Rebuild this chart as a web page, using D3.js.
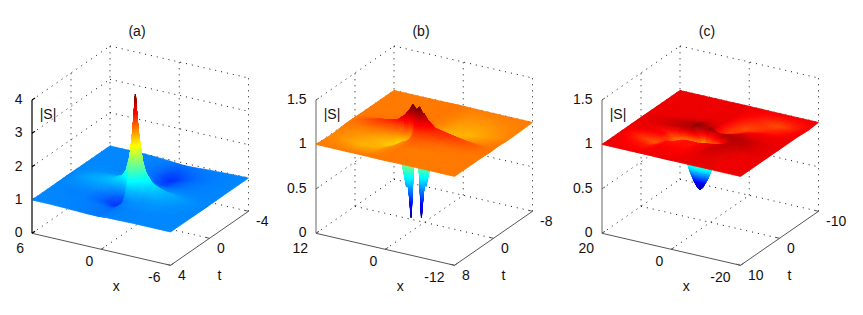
<!DOCTYPE html>
<html>
<head>
<meta charset="utf-8">
<script src="https://cdn.jsdelivr.net/npm/d3@7"></script>
<style>
  html, body { margin: 0; padding: 0; background: #fff; }
  svg { display: block; }
  text { font-family: "Liberation Sans", Arial, sans-serif; font-size: 14px; fill: #111; }
</style>
</head>
<body>
<svg id="chart" width="863" height="315"></svg>
<script>
// values, rows go along t, columns along x
const xA = [6, 4.4, 3.1, 2.1, 1.3, 0.8, 0.45, 0.2, 0, -0.2, -0.45, -0.8, -1.4, -2.5, -4, -6];
const tA = [-4, -2.8, -1.5, -0.8, -0.3, 0.1, 0.3, 0.5, 0.7, 0.9, 1.3, 1.75, 2.6, 4];
const zA = [
  [1, 1, 1, .99, .97, .96, .95, .94, .94, .93, .93, .93, .94, .96, .98, 1],
  [1, 1, 1, .98, .94, .88, .8, .74, .7, .68, .68, .72, .8, .9, .97, 1],
  [1, 1.01, 1, .98, .96, .95, .93, .9, .86, .84, .82, .82, .86, .93, .98, 1],
  [1, 1.03, 1.04, 1.04, 1.04, 1.06, 1.08, 1.1, 1.1, 1.06, 1, .96, .95, .98, .99, 1],
  [1, 1.07, 1.12, 1.15, 1.2, 1.27, 1.38, 1.5, 1.55, 1.42, 1.22, 1.08, 1, 1.03, 1.02, 1],
  [1, 1.09, 1.15, 1.21, 1.34, 1.5, 1.78, 2.1, 2.35, 1.98, 1.55, 1.3, 1.15, 1.1, 1.05, 1],
  [1, 1.1, 1.16, 1.22, 1.36, 1.6, 2, 2.6, 3, 2.5, 1.9, 1.55, 1.3, 1.17, 1.07, 1],
  [1, 1.1, 1.16, 1.22, 1.34, 1.6, 2.1, 2.9, 3.95, 2.9, 2.2, 1.72, 1.4, 1.19, 1.08, 1],
  [1, 1.08, 1.13, 1.16, 1.12, 1.2, 1.6, 2.35, 2.8, 2.5, 2, 1.6, 1.33, 1.18, 1.08, 1],
  [1, 1.05, 1.1, 1.06, .85, .72, 1, 1.7, 2.05, 1.8, 1.6, 1.4, 1.25, 1.16, 1.06, 1],
  [1, 1.02, 1.02, .9, .68, .66, .74, .95, 1.25, 1.22, 1.2, 1.14, 1.1, 1.1, 1.04, 1],
  [1, .98, .97, .88, .8, .74, .78, .85, .95, 1, 1.02, 1.04, 1.04, 1.05, 1.02, 1],
  [1, .99, .98, .96, .94, .92, .91, .91, .93, .95, .96, .98, .99, 1, 1, 1],
  [1, 1, .99, .98, .97, .97, .97, .97, .98, .98, .99, .99, .99, 1, 1, 1]
];

const xB = [12, 7, 4, 2.6, 2, 1.43, 1, .76, .52, .09, -.48, -1.08, -2.48, -5.48, -12];
const tB = [-8, -3, -1, -.2, .2, .47, .645, .835, 1.01, 1.28, 1.68, 2.48, 4.5, 8];
const zB = [
  [1, 1, 1, 1, 1, 1, 1, 1, 1, 1, 1, 1, 1, 1, 1],
  [1, 1, 1, 1, 1, 1, 1, .99, .99, .99, .98, .97, .94, .93, .99],
  [1, 1.01, 1.03, 1.04, 1.04, 1.03, 1.01, 1, .99, .98, .96, .92, .9, .96, 1],
  [1, 1.04, 1.07, 1.09, 1.1, 1.09, 1.05, 1.02, .99, .96, .9, .8, .94, 1, 1],
  [1, 1.06, 1.1, 1.15, 1.19, 1.2, 1.14, 1.05, .9, .5, .42, .62, 1, 1.04, 1],
  [1, 1.07, 1.11, 1.18, 1.24, 1.28, 1.22, 1.15, .66, .07, .55, 1, 1.06, 1.05, 1],
  [1, 1.07, 1.12, 1.2, 1.26, 1.33, 1.3, 1.27, 1.1, .8, 1.26, 1.2, 1.12, 1.08, 1],
  [1, 1.08, 1.12, 1.2, 1.26, .8, 1.1, 1.27, 1.3, 1.33, 1.26, 1.2, 1.12, 1.07, 1],
  [1, 1.05, 1.06, 1, .55, .07, .66, 1.15, 1.22, 1.28, 1.24, 1.18, 1.11, 1.07, 1],
  [1, 1.04, 1, .62, .42, .5, .9, 1.05, 1.14, 1.2, 1.19, 1.15, 1.1, 1.06, 1],
  [1, 1, .94, .8, .9, .96, .99, 1.02, 1.05, 1.09, 1.1, 1.09, 1.07, 1.04, 1],
  [1, .96, .9, .92, .96, .98, .99, 1, 1.01, 1.03, 1.04, 1.04, 1.03, 1.01, 1],
  [.99, .93, .94, .97, .98, .99, .99, .99, 1, 1, 1, 1, 1, 1, 1],
  [1, 1, 1, 1, 1, 1, 1, 1, 1, 1, 1, 1, 1, 1, 1]
];

const xC = [20, 14, 10.5, 7.5, 5, 3.7, 2.5, 1.5, .77, 0, -1.5, -3, -5, -7.5, -11, -15, -20];
const tC = [-10, -7.4, -4.5, -2.5, -1, 0, .8, 1.93, 3, 4.5, 6.7, 10];
const zC = [
  [1, 1, 1, 1, 1, 1, 1, 1, 1, 1, 1, 1, 1, 1, 1, 1, 1],
  [1, 1, 1, 1, 1, 1, 1, 1, 1, 1, .995, .99, .98, .96, .94, .96, .99],
  [1, 1, 1, 1, 1, 1, 1, 1, 1, 1, .98, .96, .94, .95, .97, .98, 1],
  [1, 1, 1.005, 1.01, 1.01, 1.02, 1.01, 1.01, 1.01, 1, .97, .95, .96, .99, 1, 1, 1],
  [1, 1.01, 1.02, 1.03, 1.04, 1.05, 1.04, 1.03, 1.03, 1.02, .98, .97, 1, 1.02, 1.01, 1, 1],
  [1, 1.01, 1.02, 1.03, 1.04, 1.07, 1.05, 1.04, 1.04, 1.06, 1.03, 1.02, 1.03, 1.03, 1.02, 1.01, 1],
  [1, 1.01, 1.02, 1.03, 1.04, 1.03, 1, .95, .85, .95, .97, 1.02, 1.04, 1.04, 1.03, 1.01, 1],
  [1, 1, .98, .92, .75, .6, .5, .44, .42, .45, .56, .72, .95, 1.03, 1.03, 1.01, 1],
  [1, 1, .99, .93, .97, .98, .98, .98, .98, .98, .99, 1, 1.01, 1.03, 1.02, 1.01, 1],
  [1, .95, .93, .98, .98, .98, .98, .98, .98, .99, 1, 1, 1.02, 1.02, 1.01, 1, 1],
  [1, .98, .97, .99, .99, .99, .99, .99, .99, .99, 1, 1, 1.01, 1.01, 1, 1, 1],
  [1, 1, 1, 1, 1, 1, 1, 1, 1, 1, 1, 1, 1, 1, 1, 1, 1]
];

const titles = ["(a)", "(b)", "(c)"];
const xTicks = [[6, 0, -6], [12, 0, -12], [20, 0, -20]];
const tTicks = [[4, 0, -4], [8, 0, -8], [10, 0, -10]];
const zTicks = [[0, 1, 2, 3, 4], [0, 0.5, 1, 1.5], [0, 0.5, 1, 1.5]];
const zLabels = [["0", "1", "2", "3", "4"], ["0", "0.5", "1", "1.5"], ["0", "0.5", "1", "1.5"]];
const colorRange = [[0, 3.9], [0.07, 1.3], [0.42, 1.07]];

// layout of the boxes on the page
const leftEdge = [32, 316, 602];
const floorY = 233.3;
const boxH = 133.3;
const alongX = [138.5, 32];   // left corner -> bottom corner
const alongT = [78, -54];     // bottom corner -> right corner

// matlab jet
const jetStops = [0, 0.125, 0.375, 0.625, 0.875, 1];
const jetColors = ["#00008f", "#0000ff", "#00ffff", "#ffff00", "#ff0000", "#800000"];

const svg = d3.select("#chart");

function drawPanel(idx, xs, ts, zs) {
  const g = svg.append("g");
  const xT = xTicks[idx], tT = tTicks[idx], zT = zTicks[idx];

  const uScale = d3.scaleLinear().domain([xT[0], xT[2]]).range([0, 1]);
  const vScale = d3.scaleLinear().domain([tT[0], tT[2]]).range([0, 1]);
  const zScale = d3.scaleLinear().domain([zT[0], zT[zT.length - 1]]).range([0, boxH]);

  const jet = d3.scaleLinear()
    .domain(jetStops.map(s => colorRange[idx][0] + s * (colorRange[idx][1] - colorRange[idx][0])))
    .range(jetColors)
    .clamp(true);

  function project(x, t, z) {
    const u = uScale(x), v = vScale(t);
    return [
      leftEdge[idx] + u * alongX[0] + v * alongT[0],
      floorY + u * alongX[1] + v * alongT[1] - zScale(z)
    ];
  }

  const line = d3.line();
  const xMin = xT[2], xMax = xT[0], tMin = tT[2], tMax = tT[0];
  const zMin = zT[0], zTop = zT[zT.length - 1];

  // dotted box grid behind the surface
  const dotted = [];
  zT.forEach(z => {
    dotted.push([project(xMax, tMax, z), project(xMax, tMin, z)]);
    dotted.push([project(xMax, tMin, z), project(xMin, tMin, z)]);
  });
  dotted.push([project(xMax, tMin, zMin), project(xMax, tMin, zTop)]);
  dotted.push([project(xMin, tMin, zMin), project(xMin, tMin, zTop)]);
  dotted.push([project(xMax, 0, zMin), project(xMax, 0, zTop)]);
  dotted.push([project(0, tMin, zMin), project(0, tMin, zTop)]);
  dotted.push([project(0, tMax, zMin), project(0, tMin, zMin)]);
  dotted.push([project(xMax, 0, zMin), project(xMin, 0, zMin)]);

  g.append("g").selectAll("path")
    .data(dotted)
    .join("path")
    .attr("d", line)
    .attr("fill", "none")
    .attr("stroke", "#111")
    .attr("stroke-width", 1)
    .attr("stroke-dasharray", "1 5");

  // box edges with the axes
  const axes = [
    [project(xMax, tMax, zMin), project(xMin, tMax, zMin)],
    [project(xMin, tMax, zMin), project(xMin, tMin, zMin)]
  ];
  xT.forEach(x => {
    const p = project(x, tMax, zMin);
    axes.push([p, [p[0] + 3, p[1] - 2]]);
  });
  tT.forEach(t => {
    const p = project(xMin, t, zMin);
    axes.push([p, [p[0] - 4, p[1] - 1]]);
  });
  g.append("g").selectAll("path")
    .data(axes)
    .join("path")
    .attr("d", line)
    .attr("fill", "none")
    .attr("stroke", "#555")
    .attr("stroke-width", 1);

  const zAxis = [[project(xMax, tMax, zMin), project(xMax, tMax, zTop)]];
  zT.forEach(z => {
    const p = project(xMax, tMax, z);
    zAxis.push([p, [p[0] + 3, p[1] - 2]]);
  });
  g.append("g").selectAll("path")
    .data(zAxis)
    .join("path")
    .attr("d", line)
    .attr("fill", "none")
    .attr("stroke", idx === 0 ? "#000" : "#666")
    .attr("stroke-width", idx === 0 ? 1.2 : 1);

  // surface, back corner first, each grid cell split up like interpolated shading
  const quads = [];
  for (let j = 0; j < xs.length - 1; j++) {
    for (let i = 0; i < ts.length - 1; i++) {
      const p0 = project(xs[j], ts[i], zs[i][j]);
      const p1 = project(xs[j + 1], ts[i + 1], zs[i + 1][j + 1]);
      const p2 = project(xs[j + 1], ts[i], zs[i][j + 1]);
      const p3 = project(xs[j], ts[i + 1], zs[i + 1][j]);
      const span = Math.max(Math.hypot(p0[0] - p1[0], p0[1] - p1[1]), Math.hypot(p2[0] - p3[0], p2[1] - p3[1]));
      const n = Math.max(2, Math.min(28, Math.ceil(span / 2.5)));
      for (let a = 0; a < n; a++) {
        for (let b = 0; b < n; b++) {
          const at = (da, db) => {
            const fa = (a + da) / n, fb = (b + db) / n;
            const x = xs[j] + (xs[j + 1] - xs[j]) * fa;
            const t = ts[i] + (ts[i + 1] - ts[i]) * fb;
            const z = (1 - fa) * (1 - fb) * zs[i][j] + fa * (1 - fb) * zs[i][j + 1]
              + (1 - fa) * fb * zs[i + 1][j] + fa * fb * zs[i + 1][j + 1];
            return { x, t, z };
          };
          const c = [at(0, 0), at(1, 0), at(1, 1), at(0, 1)];
          quads.push({
            pts: c.map(d => project(d.x, d.t, d.z)),
            z: d3.mean(c, d => d.z)
          });
        }
      }
    }
  }
  g.append("g").selectAll("polygon")
    .data(quads)
    .join("polygon")
    .attr("points", d => d.pts.map(p => p.join(",")).join(" "))
    .attr("fill", d => jet(d.z))
    .attr("stroke", d => jet(d.z))
    .attr("stroke-width", 0.6);

  // texts
  g.append("text")
    .attr("x", leftEdge[idx] + 105)
    .attr("y", 36)
    .attr("text-anchor", "middle")
    .text(titles[idx]);

  zT.forEach((z, k) => {
    const p = project(xMax, tMax, z);
    g.append("text")
      .attr("x", p[0] - 9.5)
      .attr("y", p[1] + 4)
      .attr("text-anchor", "end")
      .text(zLabels[idx][k]);
  });
  xT.forEach((x, k) => {
    const p = project(x, tMax, zMin);
    g.append("text")
      .attr("x", p[0] - 8 - (k === 2 ? 2 : 0))
      .attr("y", p[1] + (k === 0 ? 20 : 17))
      .attr("text-anchor", "end")
      .text(x);
  });
  tT.forEach(t => {
    const p = project(xMin, t, zMin);
    g.append("text")
      .attr("x", p[0] + 7.5)
      .attr("y", p[1] + 15)
      .text(t);
  });

  const xMid = project(0, tMax, zMin), tMid = project(xMin, 0, zMin);
  g.append("text")
    .attr("x", xMid[0] + 15)
    .attr("y", xMid[1] + 42)
    .attr("text-anchor", "middle")
    .text("x");
  g.append("text")
    .attr("x", tMid[0] + 10)
    .attr("y", tMid[1] + 42)
    .attr("text-anchor", "middle")
    .text("t");
  g.append("text")
    .attr("x", leftEdge[idx] + 16)
    .attr("y", 118.5)
    .attr("text-anchor", "middle")
    .text("|S|");
}

drawPanel(0, xA, tA, zA);
drawPanel(1, xB, tB, zB);
drawPanel(2, xC, tC, zC);
</script>
</body>
</html>
